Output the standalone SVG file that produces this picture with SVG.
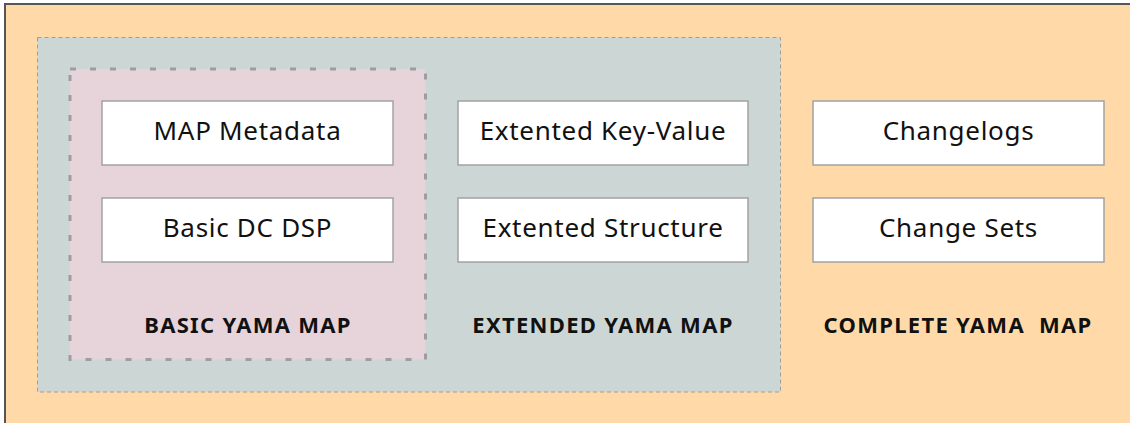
<svg xmlns="http://www.w3.org/2000/svg" width="1130" height="423" viewBox="0 0 1130 423">
  <style>
    .item rect { fill: #ffffff; stroke: #a3a3a3; stroke-width: 1.5; }
    .item text { font-family: "Noto Sans", "Liberation Sans", sans-serif; font-size: 26px; fill: #111; text-anchor: middle; dominant-baseline: central; letter-spacing: 0.7px; }
    .title { font-family: "Noto Sans", "Liberation Sans", sans-serif; font-size: 22px; font-weight: bold; fill: #111; text-anchor: middle; letter-spacing: 1.3px; white-space: pre; }
  </style>

  <!-- complete map area -->
  <g id="complete-map">
    <rect x="5" y="4" width="1140" height="430" fill="#ffdaa8" stroke="#555555" stroke-width="2"/>
    <text class="title" x="958" y="333" xml:space="preserve">COMPLETE YAMA  MAP</text>
  </g>

  <!-- extended map area -->
  <g id="extended-map">
    <rect x="37.5" y="37.5" width="743" height="354.5" fill="#ccd7d5" stroke="#9e9e9e" stroke-width="1" stroke-dasharray="4,3"/>
    <text class="title" x="603" y="333">EXTENDED YAMA MAP</text>
  </g>

  <!-- basic map area -->
  <g id="basic-map">
    <rect x="70" y="69" width="355.5" height="290.5" fill="#e6d4da" stroke="#9e9e9e" stroke-width="3" stroke-dasharray="6,14"/>
    <text class="title" x="248" y="333">BASIC YAMA MAP</text>
  </g>

  <g id="map-metadata" class="item">
    <rect x="102" y="101" width="291" height="64"/>
    <text x="247.5" y="130">MAP Metadata</text>
  </g>
  <g id="basic-dc-dsp" class="item">
    <rect x="102" y="198" width="291" height="64"/>
    <text x="247.5" y="227">Basic DC DSP</text>
  </g>
  <g id="extended-key-value" class="item">
    <rect x="458" y="101" width="290" height="64"/>
    <text x="603" y="130">Extented Key-Value</text>
  </g>
  <g id="extended-structure" class="item">
    <rect x="458" y="198" width="290" height="64"/>
    <text x="603" y="227">Extented Structure</text>
  </g>
  <g id="changelogs" class="item">
    <rect x="813" y="101" width="291" height="64"/>
    <text x="958.5" y="130">Changelogs</text>
  </g>
  <g id="change-sets" class="item">
    <rect x="813" y="198" width="291" height="64"/>
    <text x="958.5" y="227">Change Sets</text>
  </g>

  <!-- no connectors in this diagram -->
  <g id="connectors"/>
</svg>
